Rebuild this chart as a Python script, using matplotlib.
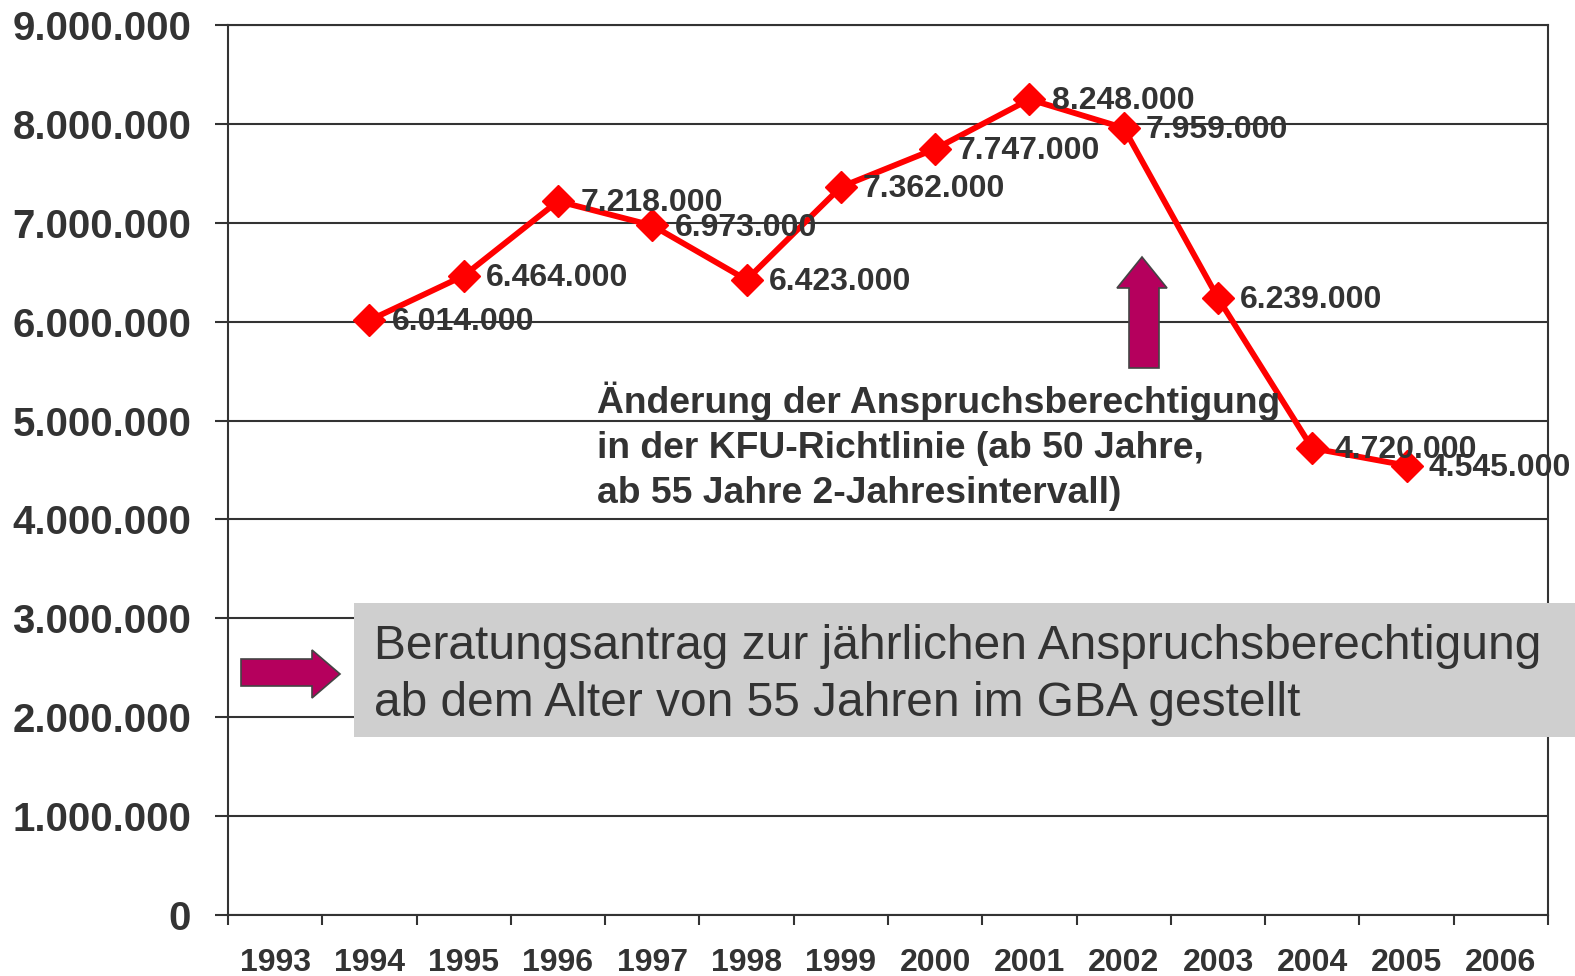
import numpy as np
import matplotlib.pyplot as plt
from matplotlib.patches import Polygon, Rectangle
from matplotlib.ticker import FuncFormatter, FixedLocator

# ---- Daten ----
jahre = ['1993', '1994', '1995', '1996', '1997', '1998', '1999',
         '2000', '2001', '2002', '2003', '2004', '2005', '2006']
jahre_daten = ['1994', '1995', '1996', '1997', '1998', '1999',
               '2000', '2001', '2002', '2003', '2004', '2005']
teilnehmer = [6014000, 6464000, 7218000, 6973000, 6423000, 7362000,
              7747000, 8248000, 7959000, 6239000, 4720000, 4545000]

hinweis_oben = ['Änderung der Anspruchsberechtigung',
                'in der KFU-Richtlinie (ab 50 Jahre,',
                'ab 55 Jahre 2-Jahresintervall)']
hinweis_kasten = ['Beratungsantrag zur jährlichen Anspruchsberechtigung',
                  'ab dem Alter von 55 Jahren im GBA gestellt']

text_grau = '#333333'
W, H = 1575, 976

plt.rcParams['font.family'] = ['Liberation Sans', 'DejaVu Sans']

fig = plt.figure(figsize=(W / 100, H / 100), dpi=100)
# Achsenbereich in Pixeln: links 228, rechts 1548, oben 25, unten 915
ax = fig.add_axes([228 / W, 1 - 915 / H, (1548 - 228) / W, (915 - 25) / H])

x = [jahre.index(j) for j in jahre_daten]
ax.plot(x, teilnehmer, color='#ff0000', linewidth=4.2, marker='D',
        markersize=16.5, zorder=3, clip_on=False)

def fmt(v):
    return f"{v:,.0f}".replace(",", ".")

for xi, v in zip(x, teilnehmer):
    ax.annotate(fmt(v), (xi, v), xytext=(16, -1.5), textcoords='offset points',
                ha='left', va='center', fontsize=23, fontweight='bold',
                color=text_grau, zorder=4, annotation_clip=False)

ax.set_xlim(-0.5, len(jahre) - 0.5)
ax.set_ylim(0, 9000000)
ax.set_yticks(np.arange(0, 9000001, 1000000))
ax.yaxis.set_major_formatter(FuncFormatter(lambda v, p: fmt(v)))
ax.grid(axis='y', color=text_grau, linewidth=1.5)
ax.set_axisbelow(True)

ax.xaxis.set_major_locator(FixedLocator(np.arange(-0.5, len(jahre), 1.0)))
ax.xaxis.set_minor_locator(FixedLocator(np.arange(len(jahre))))
ax.set_xticklabels([], minor=False)
ax.set_xticklabels(jahre, minor=True)
ax.tick_params(axis='x', which='major', direction='out', length=7,
               width=1.5, color=text_grau)
ax.tick_params(axis='x', which='minor', length=0, pad=24, labelsize=23,
               labelcolor=text_grau)
ax.tick_params(axis='y', direction='out', length=9.5, width=1.5,
               color=text_grau, pad=17, labelsize=29, labelcolor=text_grau)
for lab in ax.get_xticklabels(minor=True) + ax.get_yticklabels():
    lab.set_fontweight('bold')
for s in ax.spines.values():
    s.set_color(text_grau)
    s.set_linewidth(1.5)


def px(xp, yp):
    return (xp / W, 1 - yp / H)

# Hinweis-Text oben (Grundlinien in Pixeln)
for zeile, yb in zip(hinweis_oben, [413, 458, 503]):
    fig.text(*px(597, yb), zeile, ha='left', va='baseline', fontsize=26.8,
             fontweight='bold', color=text_grau, zorder=5)

# Pfeil nach oben
up = [(1129, 368), (1159, 368), (1159, 288), (1167, 288), (1142, 257),
      (1117, 288), (1129, 288)]
fig.patches.append(Polygon([px(*p) for p in up], closed=True,
                           transform=fig.transFigure, facecolor='#b5005d',
                           edgecolor='#444444', linewidth=1.2, zorder=5))

# Grauer Kasten
x0, y0 = px(354, 737)
x1, y1 = px(1575, 603)
fig.patches.append(Rectangle((x0, y0), x1 - x0, y1 - y0,
                             transform=fig.transFigure, facecolor='#cfcfcf',
                             edgecolor='none', zorder=5))
for zeile, yb in zip(hinweis_kasten, [659, 716]):
    fig.text(*px(374, yb), zeile, ha='left', va='baseline', fontsize=34.5,
             color=text_grau, zorder=6)

# Pfeil nach rechts
right = [(241, 659), (312, 659), (312, 650), (340, 674), (312, 698),
         (312, 686), (241, 686)]
fig.patches.append(Polygon([px(*p) for p in right], closed=True,
                           transform=fig.transFigure, facecolor='#b5005d',
                           edgecolor='#444444', linewidth=1.2, zorder=5))

fig.savefig('out.png', dpi=100)
